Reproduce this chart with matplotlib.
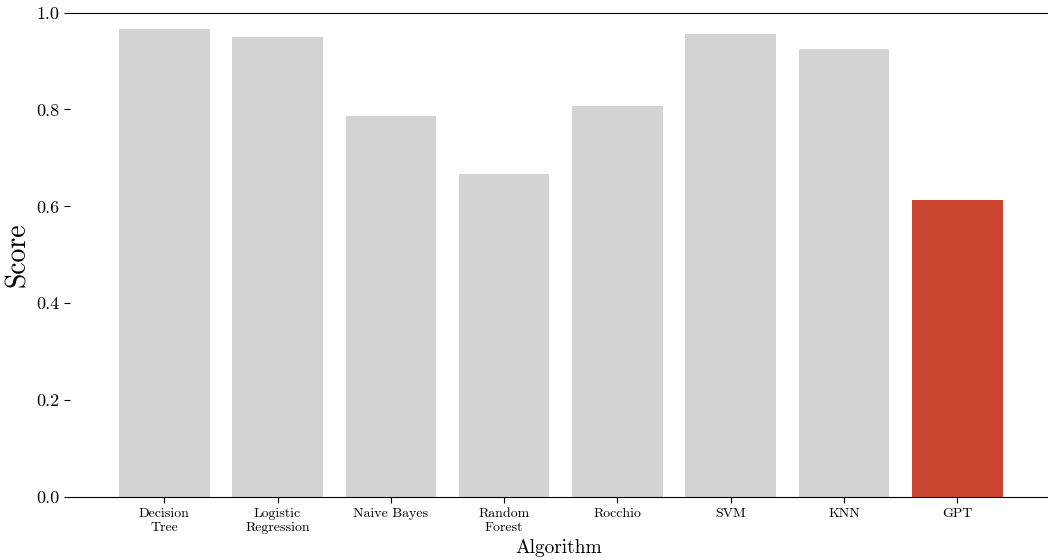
import matplotlib
matplotlib.use('agg')
import matplotlib.pyplot as plt

plt.rcParams['font.family'] = 'cmr10'
plt.rcParams['mathtext.fontset'] = 'cm'
plt.rcParams['axes.formatter.use_mathtext'] = True

algorithms = ['Decision\nTree', 'Logistic\nRegression', 'Naive Bayes', 'Random\nForest',
              'Rocchio', 'SVM', 'KNN', 'GPT']
scores = [0.967, 0.950, 0.787, 0.667, 0.808, 0.955, 0.925, 0.614]
colors = ['lightgray'] * 7 + ['#c9452f']

fig = plt.figure(figsize=(10.48, 5.6), dpi=100)
ax = fig.add_axes([0.067, 0.1125, 0.933, 0.865])

x = range(len(algorithms))
ax.bar(x, scores, width=0.8, color=colors)

ax.set_xlim(-0.83, 7.8)
ax.set_ylim(0, 1.0)
ax.set_xticks(list(x))
ax.set_xticklabels(algorithms, fontsize=10, linespacing=1.25)
ax.set_yticks([0, 0.2, 0.4, 0.6, 0.8, 1.0])
ax.set_yticklabels(['0.0', '0.2', '0.4', '0.6', '0.8', '1.0'], fontsize=13)
ax.tick_params(axis='y', length=4)
ax.tick_params(axis='x', length=4)

ax.spines['left'].set_visible(False)
ax.spines['right'].set_visible(False)

ax.set_ylabel('Score', fontsize=20)
ax.set_xlabel('Algorithm', fontsize=14, labelpad=4)

plt.savefig('out.png', dpi=100)
